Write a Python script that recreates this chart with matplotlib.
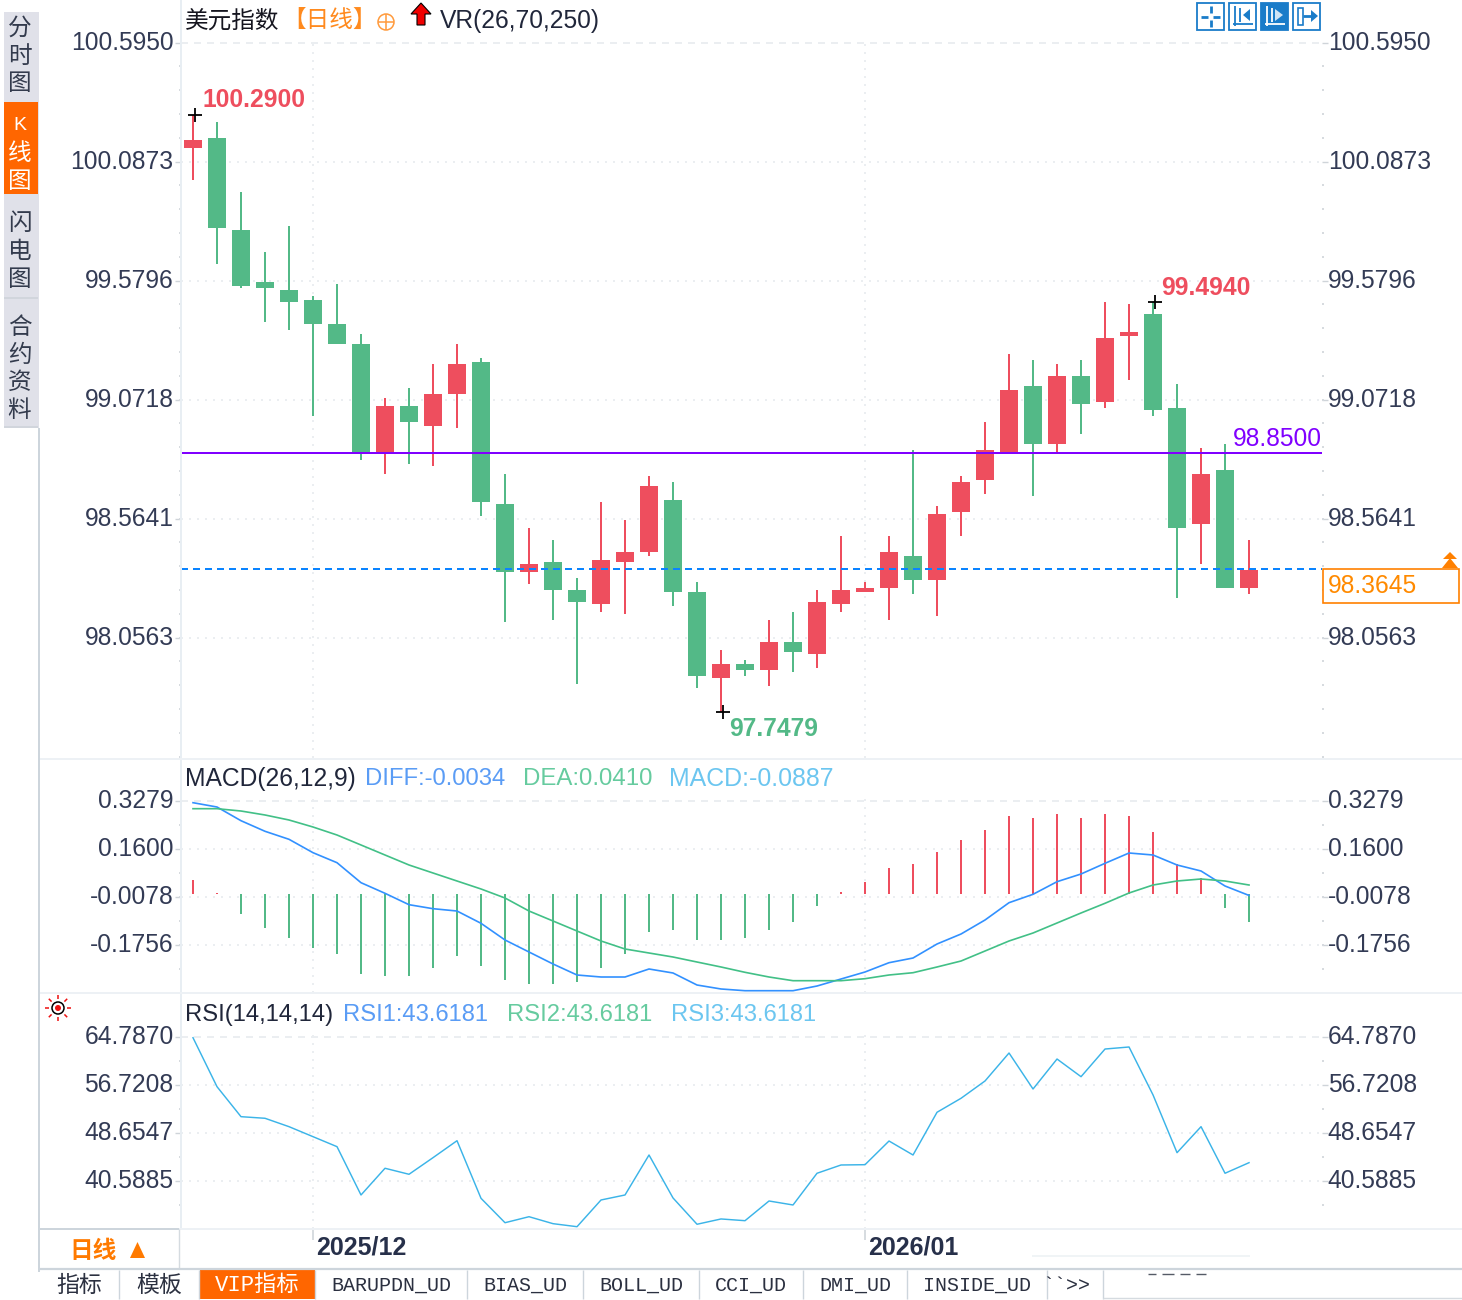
import matplotlib
matplotlib.use("Agg")
import matplotlib.pyplot as plt
from matplotlib.patches import Rectangle, Circle, Polygon
from matplotlib.transforms import ScaledTranslation

plt.rcParams['font.family'] = ['Liberation Sans', 'Noto Sans CJK SC', 'DejaVu Sans']

W, H = 1462, 1300

# ---------- data ----------
high = [100.286,100.256,99.958,99.702,99.813,99.514,99.565,99.352,99.079,99.121,99.224,99.309,99.249,98.754,98.524,
        98.473,98.311,98.635,98.558,98.746,98.720,98.294,98.003,97.961,98.131,98.166,98.259,98.490,98.294,98.490,
        98.857,98.618,98.746,98.976,99.267,99.241,99.224,99.241,99.488,99.480,99.488,99.139,98.865,98.882,98.473]
body_top = [100.180,100.188,99.796,99.574,99.540,99.497,99.395,99.309,99.045,99.045,99.096,99.224,99.232,98.626,98.370,
            98.379,98.259,98.387,98.422,98.703,98.644,98.251,97.944,97.944,98.038,98.038,98.208,98.259,98.268,98.422,
            98.405,98.584,98.720,98.857,99.113,99.130,99.173,99.173,99.335,99.360,99.437,99.036,98.754,98.772,98.345]
body_bottom = [100.146,99.804,99.557,99.548,99.488,99.395,99.309,98.844,98.844,98.976,98.959,99.096,98.635,98.336,98.336,
               98.259,98.208,98.200,98.379,98.422,98.251,97.893,97.884,97.918,97.918,97.995,97.986,98.200,98.251,98.268,
               98.302,98.302,98.592,98.729,98.844,98.882,98.882,99.053,99.062,99.343,99.028,98.524,98.541,98.268,98.268]
low = [100.009,99.650,99.548,99.403,99.369,99.002,99.309,98.814,98.754,98.797,98.789,98.951,98.575,98.123,98.285,
       98.131,97.858,98.166,98.157,98.405,98.191,97.841,97.739,97.893,97.850,97.910,97.927,98.166,98.251,98.131,
       98.242,98.149,98.490,98.669,98.844,98.661,98.848,98.925,99.036,99.155,99.002,98.225,98.370,98.268,98.242]
rising = [1,0,0,0,0,0,0,0,1,0,1,1,0,0,1,0,0,1,1,1,0,0,1,0,1,0,1,1,1,1,0,1,1,1,1,0,1,0,1,1,0,0,1,0,1]

macd_hist = [0.0507,0.0050,-0.0682,-0.1171,-0.1521,-0.1871,-0.2080,-0.2780,-0.2849,-0.2849,-0.2570,-0.2150,-0.2500,-0.2989,-0.3129,
             -0.3129,-0.3059,-0.2570,-0.2080,-0.1311,-0.1241,-0.1591,-0.1591,-0.1521,-0.1241,-0.0962,-0.0402,0.0087,0.0437,0.0926,
             0.1066,0.1486,0.1905,0.2255,0.2744,0.2674,0.2814,0.2674,0.2814,0.2744,0.2185,0.1066,0.0577,-0.0472,-0.0962]
diff = [0.3209,0.3058,0.2579,0.2209,0.1929,0.1461,0.1111,0.0412,0.0041,-0.0357,-0.0497,-0.0578,-0.1008,-0.1591,-0.2011,
        -0.2430,-0.2815,-0.2885,-0.2885,-0.2605,-0.2745,-0.3165,-0.3304,-0.3364,-0.3364,-0.3364,-0.3200,-0.2955,-0.2710,-0.2385,
        -0.2221,-0.1731,-0.1382,-0.0892,-0.0287,0.0006,0.0447,0.0716,0.1090,0.1450,0.1380,0.1031,0.0821,0.0296,-0.0034]
dea = [0.2999,0.2999,0.2918,0.2779,0.2604,0.2359,0.2079,0.1730,0.1380,0.1031,0.0751,0.0471,0.0192,-0.0123,-0.0578,
       -0.0927,-0.1277,-0.1626,-0.1906,-0.2046,-0.2186,-0.2361,-0.2535,-0.2721,-0.2885,-0.3014,-0.3014,-0.3014,-0.2944,-0.2815,
       -0.2735,-0.2535,-0.2326,-0.1976,-0.1626,-0.1347,-0.0997,-0.0647,-0.0308,0.0052,0.0331,0.0471,0.0541,0.0471,0.0331]
rsi = [64.62,56.39,51.35,51.08,49.67,47.99,46.31,38.19,42.68,41.67,44.46,47.31,37.63,33.53,34.54,
       33.37,32.86,37.35,38.19,44.91,37.69,33.27,34.16,33.87,37.18,36.51,41.84,43.23,43.28,47.26,
       44.91,52.09,54.44,57.35,62.05,56.00,61.04,58.07,62.72,63.06,55.00,45.30,49.67,41.84,43.62]

price_ticks = [100.5950,100.0873,99.5796,99.0718,98.5641,98.0563]
macd_ticks = [0.3279,0.1600,-0.0078,-0.1756]
rsi_ticks = [64.7870,56.7208,48.6547,40.5885]
date_positions = [5, 28]
date_labels = ['2025/12', '2026/01']
level_price = 98.845
last_price = 98.349

RED, GREEN = '#ee4e5e', '#53b987'
TICK_C = '#333b55'
GRID_C = '#ebeef1'
x = list(range(len(high)))
colors = [RED if r else GREEN for r in rising]

fig = plt.figure(figsize=(W/100, H/100), dpi=100, facecolor='white')


def px(dx, dy):
    return ScaledTranslation(dx/100, dy/100, fig.dpi_scale_trans)


def panel(top, bottom, ylim, ticks, minor_div, fmt='%.4f'):
    ax = fig.add_axes([181/W, 1-bottom/H, (1322-181)/W, (bottom-top)/H])
    ax.set_xlim(-0.5, 47.04)
    ax.set_ylim(*ylim)
    for s in ax.spines.values():
        s.set_visible(False)
    ax.set_yticks(ticks)
    ax.set_yticklabels([fmt % t for t in ticks], fontsize=17.7, color=TICK_C)
    ax.tick_params(axis='y', left=True, right=True, labelleft=True, labelright=True,
                   length=4.3, width=1.0, color='#cfd4d9', pad=1.0)
    step = abs(ticks[1]-ticks[0])/minor_div
    minors = []
    v = ticks[0]
    while v - step > ylim[0]:
        v -= step
        minors.append(v)
    ax.set_yticks(minors, minor=True)
    ax.tick_params(axis='y', which='minor', left=True, right=True, length=1.6, width=1.4, color='#d6dadf')
    ax.set_xticks(date_positions)
    ax.tick_params(axis='x', length=0, labelbottom=False)
    ax.grid(True, which='major', color=GRID_C, lw=1.44, linestyle=(0, (1, 3)))
    ax.set_axisbelow(True)
    gl = ax.get_ygridlines()[0]
    gl.set_linestyle((0, (3.5, 3)))
    gl.set_clip_on(False)
    for t in ax.yaxis.get_major_ticks():
        t.label1.set_transform(t.label1.get_transform() + px(0, 2))
        t.label2.set_transform(t.label2.get_transform() + px(-1.5, 2))
    return ax


# ---------- main candlestick panel ----------
ax = panel(41, 758, (100.777-0.004267*758, 100.777-0.004267*41), price_ticks, 5)
ax.vlines(x, low, high, colors=colors, lw=1.44, zorder=2)
ax.bar(x, [t-b for t, b in zip(body_top, body_bottom)], bottom=body_bottom, width=0.75,
       color=colors, lw=0, zorder=3)
ax.axhline(level_price, color='#8000ff', lw=1.44, zorder=4)
ax.axhline(last_price, color='#0a84ff', lw=1.44, linestyle=(0, (3.5, 2.5)), zorder=4)
ax.plot([0, 40, 22], [high[0], high[40], low[22]], '+', color='black', ms=10, mew=1.3, zorder=5,
        clip_on=False, transform=ax.transData + px(1.5, 0))
ax.annotate('100.2900', (0, high[0]), xytext=(7, 2.5), textcoords='offset points', color='#ee4e5e',
            fontsize=17.7, fontweight='bold', va='bottom', ha='left', annotation_clip=False)
ax.annotate('99.4940', (40, high[40]), xytext=(5.5, 1.7), textcoords='offset points', color='#ee4e5e',
            fontsize=17.7, fontweight='bold', va='bottom', ha='left')
ax.annotate('97.7479', (22, low[22]), xytext=(6, -3.3), textcoords='offset points', color='#53b987',
            fontsize=17.7, fontweight='bold', va='top', ha='left')
ax.annotate('98.8500', (47.0, level_price), xytext=(0.7, 1.4), textcoords='offset points', color='#8000ff',
            fontsize=17.7, va='bottom', ha='right')

# ---------- MACD panel ----------
ax2 = panel(799, 993, (3.1271-0.003496*993, 3.1271-0.003496*799), macd_ticks, 2)
ax2.vlines(x, 0, macd_hist, colors=[RED if v > 0 else GREEN for v in macd_hist], lw=1.44, zorder=2)
ax2.plot(x, diff, color='#3291ff', lw=1.2, zorder=3)
ax2.plot(x, dea, color='#42c087', lw=1.2, zorder=3)

# ---------- RSI panel ----------
ax3 = panel(1035, 1229, (239.007-0.16805*1229, 239.007-0.16805*1035), rsi_ticks, 2)
ax3.plot(x, rsi, color='#3bb4e8', lw=1.05, zorder=3)
ax3.set_xticklabels(date_labels, fontsize=18, fontweight='bold', color='#27304a', ha='left')
ax3.tick_params(axis='x', length=8, width=1.2, color='#cfd5da', labelbottom=True, pad=-3.6)
for lab in ax3.get_xticklabels():
    lab.set_transform(lab.get_transform() + px(3, 0))

# ---------- interface chrome ----------
ov = fig.add_axes([0, 0, 1, 1], facecolor='none')
ov.set_xlim(0, W)
ov.set_ylim(H, 0)
ov.axis('off')


def line(xs, ys, c, lw=1.44, **kw):
    ov.plot(xs, ys, color=c, lw=lw, solid_capstyle='butt', **kw)


SEP = '#edf1f5'
line([181, 181], [0, 1229], '#e8eef3')
line([40, 1462], [759, 759], SEP)
line([40, 1462], [993, 993], SEP)
line([40, 1462], [1229, 1229], SEP)
line([39, 39], [428, 1272], '#cdd5dc')
line([40, 179], [1229, 1229], '#cdd5dc')
line([179, 179], [1229, 1268], '#d5dbe0', lw=1)

# left tabs
ov.add_patch(Rectangle((4, 12), 35, 416, fc='#e0e1e9', ec='none'))
ov.add_patch(Rectangle((4, 102), 34, 92, fc='#ff6600', ec='none'))
line([4, 38], [298, 298], '#cfd3da', lw=1.2)
line([4, 38], [427, 427], '#cfd3da', lw=1.2)
for ch, yy, col in [('分', 29, '#333b4d'), ('时', 57, '#333b4d'), ('图', 84, '#333b4d'),
                    ('K', 126, 'white'), ('线', 154, 'white'), ('图', 182, 'white'),
                    ('闪', 224, '#333b4d'), ('电', 252, '#333b4d'), ('图', 280, '#333b4d'),
                    ('合', 328, '#333b4d'), ('约', 356, '#333b4d'), ('资', 383, '#333b4d'), ('料', 411, '#333b4d')]:
    ov.text(19.5, yy, ch, ha='center', va='center', fontsize=17 if ch != 'K' else 14, color=col,
            fontweight='normal')

# header
ov.text(185, 21, '美元指数', fontsize=17, color='#15151f', va='center', ha='left')
ov.text(282, 21, '【日线】', fontsize=17, color='#ff8a1e', va='center', ha='left')
ov.add_patch(Circle((386, 22), 8, fc='none', ec='#ff9a3c', lw=1.1))
line([378, 394], [22, 22], '#ff9a3c', lw=1.1)
line([386, 386], [14, 30], '#ff9a3c', lw=1.1)
ov.add_patch(Polygon([(421, 3), (431, 14), (425, 14), (425, 25), (417, 25), (417, 14), (411, 14)],
                     fc='#f00000', ec='black', lw=0.8))
ov.text(440, 21, 'VR(26,70,250)', fontsize=17.7, color='#20263a', va='center', ha='left')
ov.text(185, 779, 'MACD(26,12,9)', fontsize=17.7, color='#20263a', va='center', ha='left')
ov.text(365, 779, 'DIFF:-0.0034', fontsize=17.2, color='#5a9cf5', va='center', ha='left')
ov.text(523, 779, 'DEA:0.0410', fontsize=17.3, color='#66cb9f', va='center', ha='left')
ov.text(669, 779, 'MACD:-0.0887', fontsize=17.9, color='#6cc6f0', va='center', ha='left')
ov.text(185, 1015, 'RSI(14,14,14)', fontsize=17.1, color='#20263a', va='center', ha='left')
ov.text(343, 1015, 'RSI1:43.6181', fontsize=17.1, color='#5a9cf5', va='center', ha='left')
ov.text(507, 1015, 'RSI2:43.6181', fontsize=17.1, color='#66cb9f', va='center', ha='left')
ov.text(671, 1015, 'RSI3:43.6181', fontsize=17.1, color='#6cc6f0', va='center', ha='left')

# right-top buttons
BLUE = '#1a7cc9'
for i, bx in enumerate([1197, 1229, 1261, 1293]):
    ov.add_patch(Rectangle((bx, 3), 27, 27, fc=BLUE if i == 2 else 'white', ec=BLUE, lw=1.3))
    c = 'white' if i == 2 else BLUE
    if i == 0:
        line([bx+4, bx+11], [16.5, 16.5], c, lw=2)
        line([bx+16, bx+23], [16.5, 16.5], c, lw=2)
        line([bx+13.5, bx+13.5], [6, 13], c, lw=2)
        line([bx+13.5, bx+13.5], [20, 27], c, lw=2)
    elif i == 3:
        ov.add_patch(Rectangle((bx+5, 8), 5, 17, fc='none', ec=c, lw=1.2))
        line([bx+10, bx+20], [16, 16], c, lw=2)
        ov.add_patch(Polygon([(bx+18, 10), (bx+25, 16), (bx+18, 22)], fc=c, ec='none'))
    else:
        line([bx+6, bx+6], [6, 26], c, lw=1.3)
        line([bx+4, bx+24], [24, 24], c, lw=1.3)
        line([bx+11, bx+11], [8, 22], c, lw=1.3)
        ov.add_patch(Polygon([(bx+14, 9), (bx+22, 15), (bx+14, 21)] if i == 2
                             else [(bx+21, 9), (bx+14, 15), (bx+21, 21)],
                             fc=c if i == 1 else '#cfe4f5', ec='none'))

# last price box
ov.add_patch(Rectangle((1323, 569), 136, 34, fc='white', ec='#ff8000', lw=1.2))
ov.text(1328, 586, '98.3645', fontsize=17.7, color='#ff8a00', va='center', ha='left')
ov.add_patch(Polygon([(1450, 552), (1457, 559), (1443, 559)], fc='#ff8000', ec='none'))
ov.add_patch(Polygon([(1450, 558), (1458, 568), (1442, 568)], fc='#ff8000', ec='none'))

# indicator sun icon
ov.add_patch(Circle((58, 1008), 6, fc='white', ec='black', lw=1.1))
ov.add_patch(Circle((58, 1008), 3, fc='#ee1111', ec='none'))
for dx, dy in [(0, -11), (0, 11), (-11, 0), (11, 0), (-8, -8), (8, -8), (-8, 8), (8, 8)]:
    line([58+dx*0.8, 58+dx*1.15], [1008+dy*0.8, 1008+dy*1.15], '#ee1111', lw=1.1)

# bottom bar
ov.text(93, 1252, '日线', fontsize=17, color='#ff7a00', fontweight='bold', va='center', ha='center')
ov.add_patch(Polygon([(137.5, 1242), (145, 1258), (130, 1258)], fc='#ff7a00', ec='none'))
line([40, 1462], [1269, 1269], '#cdd5dc', lw=1.6)
ov.add_patch(Rectangle((200, 1269), 115, 30, fc='#ff6600', ec='none'))
for sx in [119, 199, 315, 467, 583, 699, 803, 907, 1047, 1103]:
    line([sx, sx], [1270, 1299], '#cdd5dc', lw=1)
line([1103, 1462], [1298, 1298], '#d5dbe0', lw=1)
ov.add_patch(Rectangle((1030, 1262), 222, 8, fc='white', ec='none'))
line([1032, 1250], [1256, 1256], '#eef2f5', lw=1.2)
line([1148, 1156], [1274, 1274], '#555b66', lw=1)
line([1162, 1174], [1274, 1274], '#555b66', lw=1)
line([1180, 1190], [1274, 1274], '#555b66', lw=1)
line([1196, 1206], [1274, 1274], '#555b66', lw=1)

MONO = ['Liberation Mono', 'Noto Sans CJK SC']
for label, cx, col, fs in [('指标', 79, '#2b3040', 16.5), ('模板', 159, '#2b3040', 16.5),
                           ('VIP指标', 257, 'white', 16),
                           ('BARUPDN_UD', 391, '#2b3040', 14.4), ('BIAS_UD', 525, '#2b3040', 14.4),
                           ('BOLL_UD', 641, '#2b3040', 14.4), ('CCI_UD', 751, '#2b3040', 14.4),
                           ('DMI_UD', 855, '#2b3040', 14.4), ('INSIDE_UD', 977, '#2b3040', 14.4),
                           ('``>>', 1066, '#2b3040', 14.4)]:
    ov.text(cx, 1285.5, label, family=MONO, fontsize=fs, color=col, va='center', ha='center')

fig.savefig('out.png', dpi=100, facecolor='white')
